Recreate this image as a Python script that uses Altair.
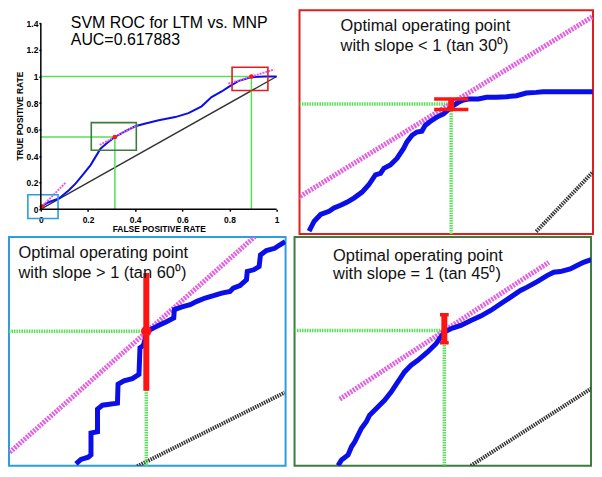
import altair as alt
import pandas as pd

# ======================= DATA =======================
# ---- main ROC panel ----
ROC_FPR = [0.0, 0.004, 0.03, 0.077, 0.12, 0.148, 0.183, 0.211, 0.232, 0.253, 0.281, 0.314,
           0.359, 0.40, 0.44, 0.50, 0.57, 0.626, 0.682, 0.724, 0.767, 0.795, 0.837, 0.893, 0.949, 1.0]
ROC_TPR = [0.0, 0.02, 0.05, 0.081, 0.144, 0.194, 0.269, 0.332, 0.394, 0.456, 0.499, 0.544,
           0.589, 0.625, 0.644, 0.670, 0.694, 0.724, 0.775, 0.845, 0.887, 0.920, 0.965, 0.995, 1.0, 1.0]
CHANCE_FPR = [0.0, 1.0]
CHANCE_TPR = [0.0, 1.0]
TAN_ID = ["slope>1", "slope>1", "slope=1", "slope=1", "slope<1", "slope<1"]
TAN_FPR = [0.0, 0.105, 0.25, 0.41, 0.795, 0.99]
TAN_TPR = [0.012, 0.199, 0.484, 0.634, 0.946, 1.053]
OP_FPR = [0.004, 0.314, 0.893]
OP_TPR = [0.02, 0.544, 1.0]
BOX_NAME = ["slope>1", "slope=1", "slope<1"]
BOX_FPR1 = [-0.055, 0.214, 0.811]
BOX_FPR2 = [0.073, 0.405, 0.963]
BOX_TPR1 = [-0.071, 0.444, 0.895]
BOX_TPR2 = [0.109, 0.652, 1.07]
X_TICKS = [0, 0.2, 0.4, 0.6, 0.8, 1]
Y_TICKS = [0, 0.2, 0.4, 0.6, 0.8, 1, 1.2, 1.4]
TITLE_LINES = ["SVM ROC for LTM vs. MNP", "AUC=0.617883"]
TITLE_FPR = [0.127, 0.127]
TITLE_TPR = [1.369, 1.234]

# ---- zoom: slope < 1 (red) ----
R_XDOM = [0.81, 0.96]
R_YDOM = [0.89, 1.07]
R_CURVE_FPR = [0.8149, 0.8175, 0.8208, 0.8251, 0.8276, 0.8310, 0.8344, 0.8378, 0.8420, 0.8454,
               0.8488, 0.8514, 0.8531, 0.8564, 0.8598, 0.8632, 0.8649, 0.8675, 0.8700, 0.8725,
               0.8742, 0.8768, 0.8802, 0.8836, 0.8861, 0.8886, 0.8912, 0.8937, 0.8963, 0.9014,
               0.9056, 0.9107, 0.9158, 0.9209, 0.9259, 0.9310, 0.9344, 0.9446, 0.9598]
R_CURVE_TPR = [0.8924, 0.9003, 0.9057, 0.9083, 0.9110, 0.9131, 0.9157, 0.9189, 0.9237, 0.9296,
               0.9375, 0.9388, 0.9428, 0.9455, 0.9508, 0.9588, 0.9641, 0.9694, 0.9720, 0.9726,
               0.9773, 0.9805, 0.9840, 0.9866, 0.9901, 0.9933, 0.9959, 0.9978, 0.9986, 0.9986,
               0.9999, 0.9999, 1.0004, 1.0012, 1.0034, 1.0039, 1.0044, 1.0044, 1.0044]
R_TAN_FPR = [0.809, 0.96]
R_TAN_TPR = [0.919, 1.065]
R_CH_FPR = [0.931, 0.96]
R_CH_TPR = [0.892, 0.940]
R_OP = [0.8875, 0.9946]
R_BAR_TPR = [0.9901, 0.9986]
R_CAP_FPR = [0.8788, 0.8963]
R_TEXT = ["Optimal operating point", "with slope < 1 (tan 30\u2070)"]
R_TEXT_FPR = [0.831, 0.831]
R_TEXT_TPR = [1.053, 1.037]

# ---- zoom: slope > 1 (blue) ----
B_XDOM = [-0.06, 0.08]
B_YDOM = [-0.07, 0.11]
B_CURVE_FPR = [-0.0261, -0.0236, -0.0199, -0.0185, -0.0185, -0.0152, -0.0152, -0.0127, -0.0051,
               -0.0048, -0.0018, 0.0024, 0.0058, 0.0063, 0.0080, 0.0100, 0.0133, 0.0167, 0.0192,
               0.0234, 0.0237, 0.0276, 0.0317, 0.0351, 0.0393, 0.0435, 0.0477, 0.0519, 0.0535,
               0.0569, 0.0602, 0.0606, 0.0639, 0.0666, 0.0673, 0.0703, 0.0745, 0.0770, 0.0798]
B_CURVE_TPR = [-0.0684, -0.0650, -0.0632, -0.0614, -0.0442, -0.0431, -0.0254, -0.0223, -0.0207,
               -0.0058, -0.0032, -0.0014, 0.0020, 0.0229, 0.0247, 0.0359, 0.0385, 0.0411, 0.0430,
               0.0464, 0.0529, 0.0550, 0.0568, 0.0594, 0.0620, 0.0638, 0.0659, 0.0672, 0.0698,
               0.0717, 0.0764, 0.0829, 0.0842, 0.0868, 0.0959, 0.0993, 0.1011, 0.1037, 0.1064]
B_TAN_FPR = [-0.0596, 0.0644]
B_TAN_TPR = [-0.0593, 0.1103]
B_CH_FPR = [0.0049, 0.0795]
B_CH_TPR = [-0.0703, -0.0124]
B_OP = [0.0095, 0.0359]
B_BAR_TPR = [-0.011, 0.0816]
B_TEXT = ["Optimal operating point", "with slope > 1 (tan 60\u2070)"]
B_TEXT_FPR = [-0.0552, -0.0552]
B_TEXT_TPR = [0.0936, 0.0779]

# ---- zoom: slope = 1 (green) ----
G_XDOM = [0.215, 0.405]
G_YDOM = [0.42, 0.63]
G_CURVE_FPR = [0.2429, 0.2451, 0.2493, 0.2515, 0.2536, 0.2557, 0.2578, 0.2610, 0.2631, 0.2663,
               0.2695, 0.2727, 0.2770, 0.2812, 0.2855, 0.2897, 0.2940, 0.3003, 0.3057, 0.3110,
               0.3152, 0.3216, 0.3280, 0.3343, 0.3407, 0.3471, 0.3535, 0.3598, 0.3641, 0.3705,
               0.3768, 0.3811, 0.3853, 0.3917, 0.3960, 0.4002, 0.4051]
G_CURVE_TPR = [0.4202, 0.4253, 0.4299, 0.4375, 0.4421, 0.4482, 0.4543, 0.4604, 0.4665, 0.4711,
               0.4757, 0.4802, 0.4879, 0.4970, 0.5062, 0.5123, 0.5168, 0.5245, 0.5321, 0.5428,
               0.5458, 0.5489, 0.5534, 0.5574, 0.5626, 0.5687, 0.5748, 0.5809, 0.5840, 0.5891,
               0.5946, 0.5977, 0.5983, 0.6007, 0.6038, 0.6068, 0.6093]
G_TAN_FPR = [0.2440, 0.3779]
G_TAN_TPR = [0.4812, 0.6068]
G_CH_FPR = [0.3280, 0.4051]
G_CH_TPR = [0.4202, 0.4909]
G_OP = [0.3110, 0.5443]
G_BAR_TPR = [0.5330, 0.5586]
G_CAP_FPR = [0.3082, 0.3138]
G_TEXT = ["Optimal operating point", "with slope = 1 (tan 45\u2070)"]
G_TEXT_FPR = [0.2397, 0.2397]
G_TEXT_TPR = [0.6083, 0.5916]

# ======================= STYLE =======================
FONT = "Liberation Sans"
BLUE = "#0a0ee8"
MAGENTA = "#e35ee3"
GREEN = "#55e055"
RED = "#ff1414"
CHANCE_COL = "#333333"
BOX_COLORS = ["#2b9de0", "#3e7b3e", "#e01e1e"]
MAIN_XDOM = [-0.135, 1.0]   # left part of the plot area holds the y axis
MAIN_YDOM = [0, 1.5]        # top part of the plot area holds the title


def xy(xs, ys):
    return pd.DataFrame({"x": xs, "y": ys, "o": list(range(len(xs)))})


# ======================= MAIN PANEL =======================
xs_main = alt.Scale(domain=MAIN_XDOM, nice=False, zero=False)
ys_main = alt.Scale(domain=MAIN_YDOM, nice=False, zero=False)
x_axis = alt.Axis(values=X_TICKS, format="~g", title="FALSE POSITIVE RATE", grid=False, domain=False,
                  tickColor="black", tickSize=2, tickWidth=1.5,
                  labelFont=FONT, labelFontSize=8.5, labelFontWeight="bold", labelColor="black",
                  labelPadding=4, labelFlush=False,
                  titleFont=FONT, titleFontSize=8.5, titleFontWeight="bold", titleColor="black",
                  titlePadding=1, titleX=150.5)
y_axis = alt.Axis(values=Y_TICKS, format="~g", title="TRUE POSITIVE RATE", grid=False, domain=False,
                  tickColor="black", tickSize=2, tickWidth=1.5, offset=-32,
                  labelFont=FONT, labelFontSize=8.5, labelFontWeight="bold", labelColor="black",
                  labelPadding=1, titleFont=FONT, titleFontSize=8.5, titleFontWeight="bold",
                  titleColor="black", titlePadding=1.5, titleY=106)


def MX(f="x"):
    return alt.X(f"{f}:Q", scale=xs_main, axis=x_axis)


def MY(f="y"):
    return alt.Y(f"{f}:Q", scale=ys_main, axis=y_axis)


m_chance = alt.Chart(xy(CHANCE_FPR, CHANCE_TPR)).mark_line(color=CHANCE_COL, strokeWidth=1.4).encode(
    x=MX(), y=MY(), order="o:Q")
m_gv = alt.Chart(pd.DataFrame({"x": OP_FPR, "y": [0] * 3, "y2": OP_TPR})).mark_rule(
    color=GREEN, strokeWidth=1.5).encode(x=MX(), y=MY(), y2="y2:Q")
m_gh = alt.Chart(pd.DataFrame({"x": [0] * 3, "x2": OP_FPR, "y": OP_TPR})).mark_rule(
    color=GREEN, strokeWidth=1.5).encode(x=MX(), x2="x2:Q", y=MY())
m_roc = alt.Chart(xy(ROC_FPR, ROC_TPR)).mark_line(color=BLUE, strokeWidth=2).encode(
    x=MX(), y=MY(), order="o:Q")
m_tan = alt.Chart(pd.DataFrame({"x": TAN_FPR, "y": TAN_TPR, "id": TAN_ID})).mark_line(
    color=MAGENTA, strokeWidth=2, strokeDash=[2, 1]).encode(x=MX(), y=MY(), detail="id:N")
m_box = alt.Chart(pd.DataFrame({"x": BOX_FPR1, "x2": BOX_FPR2, "y": BOX_TPR1, "y2": BOX_TPR2,
                                "name": BOX_NAME})).mark_rect(fillOpacity=0, strokeWidth=1.6).encode(
    x=MX(), x2="x2:Q", y=MY(), y2="y2:Q",
    stroke=alt.Stroke("name:N", scale=alt.Scale(domain=BOX_NAME, range=BOX_COLORS), legend=None))
m_op = alt.Chart(xy(OP_FPR, OP_TPR)).mark_point(filled=True, color=RED, size=22, opacity=1).encode(
    x=MX(), y=MY())
m_yline = alt.Chart(pd.DataFrame({"x": [0], "y": [Y_TICKS[0]], "y2": [Y_TICKS[-1]]})).mark_rule(
    color="black", strokeWidth=1.5).encode(x=MX(), y=MY(), y2="y2:Q")
m_xline = alt.Chart(pd.DataFrame({"x": [X_TICKS[0]], "x2": [X_TICKS[-1]], "y": [0]})).mark_rule(
    color="black", strokeWidth=1.5).encode(x=MX(), x2="x2:Q", y=MY())
m_text = alt.Chart(pd.DataFrame({"x": TITLE_FPR, "y": TITLE_TPR, "t": TITLE_LINES})).mark_text(
    align="left", baseline="alphabetic", font=FONT, fontSize=16, color="black").encode(
    x=MX(), y=MY(), text="t:N")

main = alt.layer(m_chance, m_gv, m_gh, m_roc, m_tan, m_box, m_op, m_yline, m_xline, m_text).properties(
    width=269, height=200, view=alt.ViewBackground(stroke="transparent"))


# ======================= ZOOM PANELS =======================
def zoom_panel(curve_x, curve_y, tan_x, tan_y, ch_x, ch_y, op, bar_y, cap_x, text, text_x, text_y,
               xdom, ydom, w, h, border, dot):
    xs = alt.Scale(domain=xdom, nice=False, zero=False)
    ys = alt.Scale(domain=ydom, nice=False, zero=False)

    def PX(f="x"):
        return alt.X(f"{f}:Q", scale=xs, axis=None)

    def PY(f="y"):
        return alt.Y(f"{f}:Q", scale=ys, axis=None)

    layers = []
    layers.append(alt.Chart(xy(ch_x, ch_y)).mark_line(
        clip=True, color=CHANCE_COL, strokeWidth=4, strokeDash=[1.5, 1]).encode(x=PX(), y=PY(), order="o:Q"))
    layers.append(alt.Chart(pd.DataFrame({"x": [op[0]], "y": [ydom[0]], "y2": [op[1]]})).mark_rule(
        clip=True, color=GREEN, strokeWidth=3.5, strokeDash=[1.5, 1]).encode(x=PX(), y=PY(), y2="y2:Q"))
    layers.append(alt.Chart(pd.DataFrame({"x": [xdom[0]], "x2": [op[0]], "y": [op[1]]})).mark_rule(
        clip=True, color=GREEN, strokeWidth=3.5, strokeDash=[1.5, 1]).encode(x=PX(), x2="x2:Q", y=PY()))
    layers.append(alt.Chart(xy(tan_x, tan_y)).mark_line(
        clip=True, color=MAGENTA, strokeWidth=5, strokeDash=[2, 1.2]).encode(x=PX(), y=PY(), order="o:Q"))
    layers.append(alt.Chart(xy(curve_x, curve_y)).mark_line(
        clip=True, color=BLUE, strokeWidth=5, strokeJoin="miter").encode(x=PX(), y=PY(), order="o:Q"))
    layers.append(alt.Chart(pd.DataFrame({"x": [op[0]], "y": [bar_y[0]], "y2": [bar_y[1]]})).mark_rule(
        clip=True, color=RED, strokeWidth=6).encode(x=PX(), y=PY(), y2="y2:Q"))
    if cap_x is not None:
        layers.append(alt.Chart(pd.DataFrame({"x": [cap_x[0]] * 2, "x2": [cap_x[1]] * 2, "y": bar_y})).mark_rule(
            clip=True, color=RED, strokeWidth=3.5).encode(x=PX(), x2="x2:Q", y=PY()))
    if dot:
        layers.append(alt.Chart(xy([op[0]], [op[1]])).mark_point(
            filled=True, color=RED, size=110, opacity=1).encode(x=PX(), y=PY()))
    layers.append(alt.Chart(pd.DataFrame({"x": text_x, "y": text_y, "t": text})).mark_text(
        align="left", baseline="alphabetic", font=FONT, fontSize=16.5, color="#111111").encode(
        x=PX(), y=PY(), text="t:N"))
    return alt.layer(*layers).properties(
        width=w, height=h, view=alt.ViewBackground(stroke=border, strokeWidth=2))


red_panel = zoom_panel(R_CURVE_FPR, R_CURVE_TPR, R_TAN_FPR, R_TAN_TPR, R_CH_FPR, R_CH_TPR, R_OP,
                       R_BAR_TPR, R_CAP_FPR, R_TEXT, R_TEXT_FPR, R_TEXT_TPR, R_XDOM, R_YDOM,
                       295, 225, BOX_COLORS[2], False)
blue_panel = zoom_panel(B_CURVE_FPR, B_CURVE_TPR, B_TAN_FPR, B_TAN_TPR, B_CH_FPR, B_CH_TPR, B_OP,
                        B_BAR_TPR, None, B_TEXT, B_TEXT_FPR, B_TEXT_TPR, B_XDOM, B_YDOM,
                        278, 230, BOX_COLORS[0], True)
green_panel = zoom_panel(G_CURVE_FPR, G_CURVE_TPR, G_TAN_FPR, G_TAN_TPR, G_CH_FPR, G_CH_TPR, G_OP,
                         G_BAR_TPR, G_CAP_FPR, G_TEXT, G_TEXT_FPR, G_TEXT_TPR, G_XDOM, G_YDOM,
                         298, 230, BOX_COLORS[1], False)

top = alt.hconcat(main, red_panel, spacing=17)
bottom = alt.hconcat(blue_panel, green_panel, spacing=7)
chart = alt.vconcat(top, bottom, spacing=1).properties(padding=0, background="white")

chart.save("out.html", embed_options={"renderer": "svg", "actions": False})
